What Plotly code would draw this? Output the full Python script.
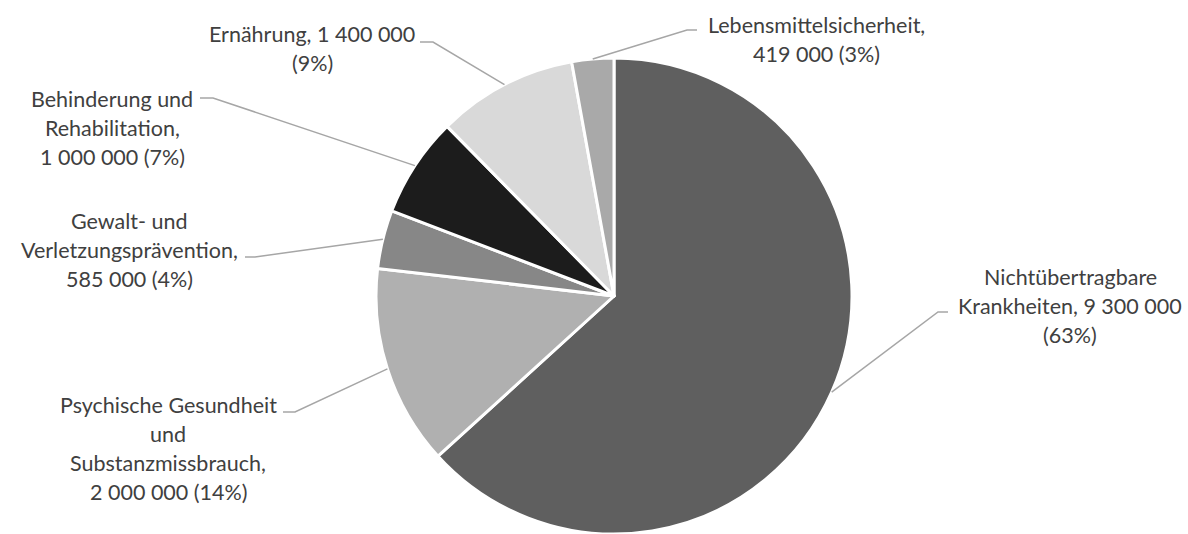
import math
import plotly.graph_objects as go

# ---- data ----
categories = [
    "Nichtübertragbare Krankheiten",
    "Psychische Gesundheit und Substanzmissbrauch",
    "Gewalt- und Verletzungsprävention",
    "Behinderung und Rehabilitation",
    "Ernährung",
    "Lebensmittelsicherheit",
]
values = [9300000, 2000000, 585000, 1000000, 1400000, 419000]
percent_labels = ["63%", "14%", "4%", "7%", "9%", "3%"]
label_templates = [
    "Nichtübertragbare\nKrankheiten, {v}\n({p})",
    "Psychische Gesundheit\nund\nSubstanzmissbrauch,\n{v} ({p})",
    "Gewalt- und\nVerletzungsprävention,\n{v} ({p})",
    "Behinderung und\nRehabilitation,\n{v} ({p})",
    "Ernährung, {v}\n({p})",
    "Lebensmittelsicherheit,\n{v} ({p})",
]
colors = ["#5f5f5f", "#b0b0b0", "#878787", "#1c1c1c", "#d9d9d9", "#a9a9a9"]

# ---- layout constants (pixels) ----
W, H = 1188, 534
CX, CY, R = 614, 296, 238
label_pos = [(1070, 277), (168, 405), (129, 221), (112, 99), (312, 34), (816, 25)]
elbows = [((938, 312), (948, 312)), ((295, 412), (283, 412)), ((255, 257), (245, 257)),
          ((213, 98), (200, 98)), ((433, 42), (420, 42)), ((687, 30), (697, 30))]
LINE_H = 29


def px(x):
    return x / W


def py(y):
    return 1 - y / H


fig = go.Figure(go.Pie(
    labels=categories, values=values, sort=False, direction="clockwise", rotation=0,
    marker=dict(colors=colors, line=dict(color="white", width=3)),
    textinfo="none", hoverinfo="label+value+percent", showlegend=False,
    domain=dict(x=[(CX - R) / W, (CX + R) / W], y=[0, 1 - (CY - R) / H]),
))

total = sum(values)
cum = 0
shapes, annotations = [], []
for i, v in enumerate(values):
    mid = (cum + v / 2) / total * 2 * math.pi
    cum += v
    sx = CX + R * math.sin(mid)
    sy = CY - R * math.cos(mid)
    (ex, ey), (fx, fy) = elbows[i]
    shapes.append(dict(type="path", xref="paper", yref="paper",
                       path=f"M {px(sx)} {py(sy)} L {px(ex)} {py(ey)} L {px(fx)} {py(fy)}",
                       line=dict(color="#a6a6a6", width=1.5)))
    vtxt = f"{v:,}".replace(",", " ")
    lines = label_templates[i].format(v=vtxt, p=percent_labels[i]).split("\n")
    lx, ly = label_pos[i]
    for k, t in enumerate(lines):
        annotations.append(dict(x=px(lx), y=py(ly + k * LINE_H), xref="paper", yref="paper",
                                text=t, showarrow=False, xanchor="center", yanchor="middle",
                                font=dict(family="Lato", size=21.5, color="#404040")))

fig.update_layout(width=W, height=H, margin=dict(l=0, r=0, t=0, b=0),
                  paper_bgcolor="white", plot_bgcolor="white",
                  shapes=shapes, annotations=annotations)
fig.write_html("out.html")
